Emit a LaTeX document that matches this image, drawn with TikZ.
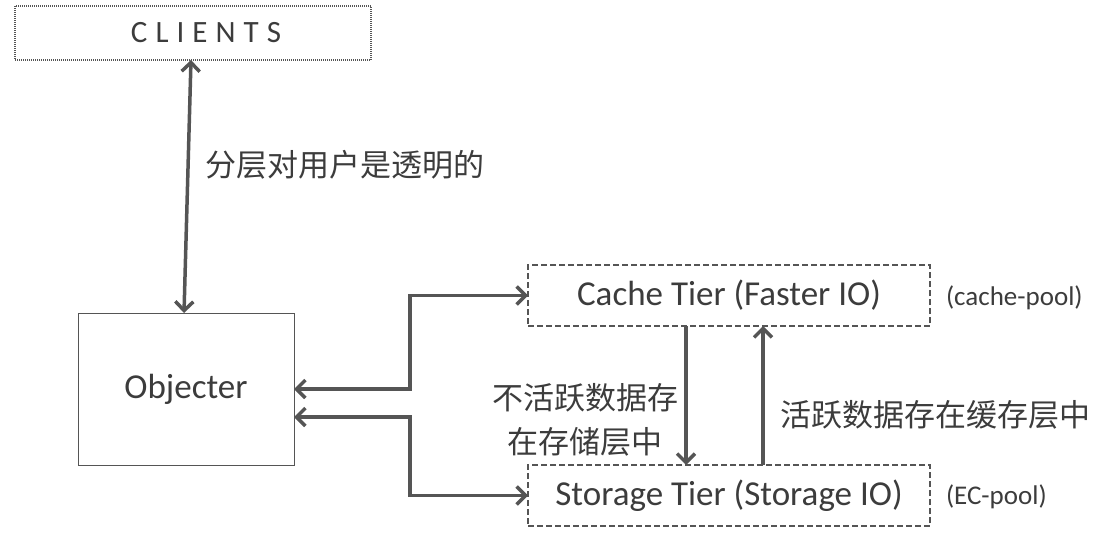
\documentclass[tikz,border=0pt]{standalone}
\usepackage{fontspec}
\setmainfont{Carlito}
\newfontfamily\cjk{Noto Sans CJK SC}
\usetikzlibrary{arrows.meta}
\definecolor{ink}{HTML}{555555}
\definecolor{txt}{HTML}{3c3c3c}
\begin{document}
\begin{tikzpicture}[x=1pt,y=-1pt,
  every node/.style={inner sep=0pt, outer sep=0pt, text=txt},
  box/.style={draw=ink, rectangle, line width=1pt},
  tierbox/.style={draw=ink, rectangle, dashed, dash pattern=on 6pt off 3pt, line width=2pt, minimum width=402pt, minimum height=61pt, font=\fontsize{35}{40}\selectfont},
  conn/.style={draw=ink, line width=3.5pt, {Straight Barb[length=9pt,width=18pt]}-{Straight Barb[length=9pt,width=18pt]}},
  oneway/.style={draw=ink, line width=3.5pt, -{Straight Barb[length=9pt,width=18pt]}},
  zh/.style={font=\cjk\fontsize{31}{44}\selectfont},
  pool/.style={anchor=west, font=\fontsize{27}{30}\selectfont}
]
\useasboundingbox (0,0) rectangle (1099,543);
\node[box, densely dotted, line width=1.3pt, minimum width=356pt, minimum height=54pt,
  font=\addfontfeature{LetterSpace=26}\fontsize{31}{34}\selectfont] (clients) at (193,33) {\hspace*{26pt}CLIENTS};
\node[box, minimum width=216pt, minimum height=152pt, font=\fontsize{35}{40}\selectfont] (obj) at (186,389) {Objecter};
\node[tierbox] (cache) at (729,295.5) {Cache Tier (Faster IO)};
\node[tierbox] (storage) at (729,495.5) {Storage Tier (Storage IO)};
\node[pool] (cp) at (946,298) {(cache-pool)};
\node[pool] (ec) at (946,497) {(EC-pool)};
\node[zh, anchor=west] (t1) at (205,165) {分层对用户是透明的};
\node[zh, align=center] (t2) at (585,420) {不活跃数据存\\在存储层中};
\node[zh, anchor=west] (t3) at (780,415) {活跃数据存在缓存层中};
\draw[conn] ([xshift=-2pt]clients.south) -- ([xshift=-2pt]obj.north);
\draw[conn] (obj.east) -- ++(116,0) |- (cache.west);
\draw[conn] ([yshift=-28pt]obj.east) -- ++(116,0) |- (storage.west);
\draw[oneway] ([xshift=-43pt]cache.south) -- ([xshift=-43pt]storage.north);
\draw[oneway] ([xshift=34pt]storage.north) -- ([xshift=34pt]cache.south);
\end{tikzpicture}
\end{document}
